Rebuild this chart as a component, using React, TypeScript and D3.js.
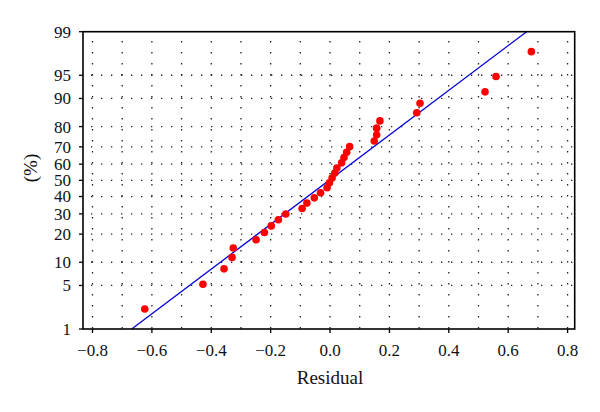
import React from "react";
import * as d3 from "d3";

// Normal probability plot of residuals
const residuals = [
  -0.624, -0.428, -0.357, -0.33, -0.326, -0.249, -0.221, -0.198, -0.174, -0.149,
  -0.094, -0.078, -0.053, -0.032, -0.01, -0.002, 0.007, 0.016, 0.023, 0.039,
  0.047, 0.056, 0.066, 0.149, 0.157, 0.157, 0.168, 0.292, 0.303, 0.522, 0.559, 0.678,
];
const percents = [
  2.2, 5.2, 8.3, 11.4, 14.5, 17.6, 20.7, 23.8, 26.9, 29.9,
  33.0, 36.1, 39.2, 42.3, 45.4, 48.5, 51.5, 54.6, 57.7, 60.8,
  63.9, 67.0, 70.1, 73.1, 76.2, 79.3, 82.4, 85.5, 88.6, 91.7, 94.8, 97.8,
];
const fitResidual = [-0.668, 0.662];
const fitPercent = [1, 99];

const xTicks = [-0.8, -0.6, -0.4, -0.2, 0.0, 0.2, 0.4, 0.6, 0.8];
const xGrid = [-0.8, -0.7, -0.6, -0.5, -0.4, -0.3, -0.2, -0.1, 0, 0.1, 0.2, 0.3, 0.4, 0.5, 0.6, 0.7, 0.8];
const yTicks = [1, 5, 10, 20, 30, 40, 50, 60, 70, 80, 90, 95, 99];
const yGrid = [5, 10, 20, 30, 40, 50, 60, 70, 80, 90, 95];

// inverse standard normal CDF (Acklam)
function probit(p: number): number {
  const a = [-3.969683028665376e1, 2.209460984245205e2, -2.759285104469687e2, 1.38357751867269e2, -3.066479806614716e1, 2.506628277459239];
  const b = [-5.447609879822406e1, 1.615858368580409e2, -1.556989798598866e2, 6.680131188771972e1, -1.328068155288572e1];
  const c = [-7.784894002430293e-3, -3.223964580411365e-1, -2.400758277161838, -2.549732539343734, 4.374664141464968, 2.938163982698783];
  const d = [7.784695709041462e-3, 3.224671290700398e-1, 2.445134137142996, 3.754408661907416];
  const pl = 0.02425;
  let q: number, r: number;
  if (p < pl) {
    q = Math.sqrt(-2 * Math.log(p));
    return (((((c[0] * q + c[1]) * q + c[2]) * q + c[3]) * q + c[4]) * q + c[5]) / ((((d[0] * q + d[1]) * q + d[2]) * q + d[3]) * q + 1);
  }
  if (p <= 1 - pl) {
    q = p - 0.5;
    r = q * q;
    return ((((((a[0] * r + a[1]) * r + a[2]) * r + a[3]) * r + a[4]) * r + a[5]) * q) / (((((b[0] * r + b[1]) * r + b[2]) * r + b[3]) * r + b[4]) * r + 1);
  }
  q = Math.sqrt(-2 * Math.log(1 - p));
  return -(((((c[0] * q + c[1]) * q + c[2]) * q + c[3]) * q + c[4]) * q + c[5]) / ((((d[0] * q + d[1]) * q + d[2]) * q + d[3]) * q + 1);
}

const L = 83, R = 574.7, T = 31.7, B = 329;

export default function App() {
  const x = d3.scaleLinear().domain([-0.832, 0.824]).range([L, R]);
  const yz = d3.scaleLinear().domain([probit(0.01), probit(0.99)]).range([B, T]);
  const y = (pct: number) => yz(probit(pct / 100));
  const font = "'Liberation Serif', 'Times New Roman', serif";
  const fitLine = d3.line<number>().x((_, i) => x(fitResidual[i])).y((_, i) => y(fitPercent[i]));

  return (
    <svg width={600} height={412} style={{ position: "absolute", left: 0, top: 0, background: "#fff" }} fontFamily={font}>
      <rect x={0} y={0} width={600} height={412} fill="#fff" />
      {/* dotted grid */}
      <g stroke="#222" strokeWidth={1.3}>
        {xGrid.map((g) => (
          <line key={"vx" + g} x1={x(g)} x2={x(g)} y1={T} y2={B} strokeDasharray="1.3,9.7" strokeDashoffset={-9.4} />
        ))}
        {yGrid.map((g) => (
          <line key={"hy" + g} x1={L} x2={R} y1={y(g)} y2={y(g)} strokeDasharray="1.3,8.7" strokeDashoffset={-8} />
        ))}
      </g>
      {/* fit line */}
      <path d={fitLine([0, 1]) || ""} fill="none" stroke="#0000dd" strokeWidth={1.3} />
      {/* points */}
      {residuals.map((r, i) => (
        <circle key={i} cx={x(r)} cy={y(percents[i])} r={3.8} fill="#ff0000" />
      ))}
      {/* frame */}
      <rect x={L} y={T} width={R - L} height={B - T} fill="none" stroke="#000" strokeWidth={1.6} />
      {/* y ticks */}
      {yTicks.map((t) => (
        <g key={"yt" + t}>
          <line x1={L - 4} x2={L} y1={y(t)} y2={y(t)} stroke="#000" strokeWidth={1.3} />
          <text x={71} y={y(t)} dy="0.35em" textAnchor="end" fontSize={17} fill="#111">
            {t}
          </text>
        </g>
      ))}
      {/* x ticks */}
      {xTicks.map((t) => (
        <g key={"xt" + t}>
          <line x1={x(t)} x2={x(t)} y1={B} y2={B + 4} stroke="#000" strokeWidth={1.3} />
          <text x={x(t)} y={355.5} textAnchor="middle" fontSize={17} fill="#111">
            {t < 0 ? "\u2212" + Math.abs(t).toFixed(1) : t.toFixed(1)}
          </text>
        </g>
      ))}
      <text x={330} y={384} textAnchor="middle" fontSize={19} fill="#111">
        Residual
      </text>
      <text transform="translate(37,168) rotate(-90)" textAnchor="middle" fontSize={19} fill="#111">
        (%)
      </text>
    </svg>
  );
}
